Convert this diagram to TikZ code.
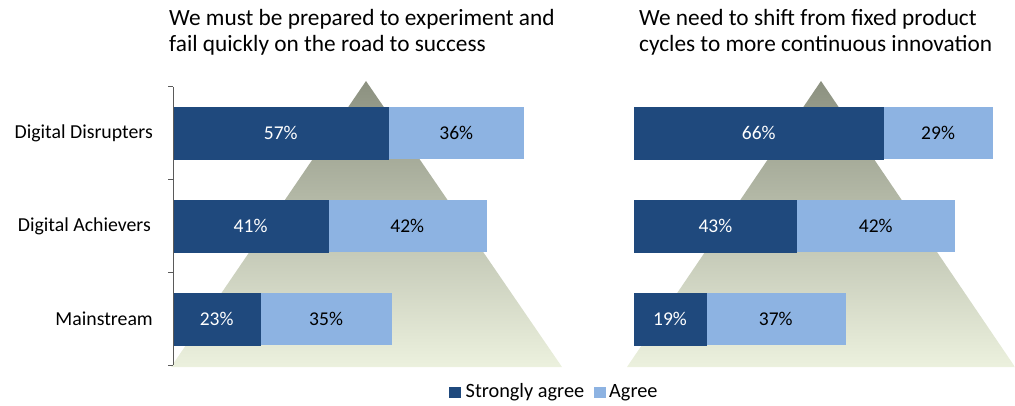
\documentclass[tikz,border=0pt]{standalone}
\usepackage{fontspec}
\setmainfont{Carlito}
\definecolor{darkbar}{HTML}{1F497D}
\definecolor{lightbar}{HTML}{8DB3E2}
\definecolor{pyrtop}{RGB}{140,145,128}
\definecolor{pyrbot}{RGB}{236,241,222}
\definecolor{axisgray}{RGB}{90,90,90}
\tikzset{
  barbase/.style={anchor=west, inner sep=0pt, minimum height=52pt, font=\fontsize{19.5}{22}\selectfont},
  darkseg/.style={barbase, fill=darkbar, draw=darkbar, line width=0.4pt, text=white},
  lightseg/.style={barbase, fill=lightbar, text=black},
  rowlabel/.style={anchor=east, inner sep=0pt, font=\fontsize{19.8}{22}\selectfont},
  titletext/.style={anchor=north west, inner sep=0pt, align=left, font=\fontsize{23.3}{26}\selectfont},
  legtext/.style={anchor=west, inner sep=0pt, font=\fontsize{20.3}{22}\selectfont},
  legbox/.style={inner sep=0pt, minimum width=11.5pt, minimum height=11pt},
  axisline/.style={draw=axisgray, line width=1pt}
}
\newcommand{\pcw}{3.775}
\begin{document}
\begin{tikzpicture}[x=1pt,y=-1pt]
\useasboundingbox (0,0) rectangle (1015,406);
% pyramids
\shade[top color=pyrtop, bottom color=pyrbot] (366,81) -- (562,367) -- (171,367) -- cycle;
\shade[top color=pyrtop, bottom color=pyrbot] (821,81) -- (1015,367) -- (627,367) -- cycle;
% titles
\node[titletext] (t1) at (169,9) {We must be prepared to experiment and\\fail quickly on the road to success};
\node[titletext] (t2) at (639,9) {We need to shift from fixed product\\cycles to more continuous innovation};
% left bars
\node[lightseg, minimum width=36*\pcw pt] (l1l) at (173+57*\pcw,133) {36\%};
\node[darkseg, minimum width=57*\pcw pt] (l1d) at (173,133) {57\%};
\node[lightseg, minimum width=42*\pcw pt] (l2l) at (173+41*\pcw,226) {42\%};
\node[darkseg, minimum width=41*\pcw pt] (l2d) at (173,226) {41\%};
\node[lightseg, minimum width=35*\pcw pt] (l3l) at (173+23*\pcw,319) {35\%};
\node[darkseg, minimum width=23*\pcw pt] (l3d) at (173,319) {23\%};
% right bars
\node[lightseg, minimum width=29*\pcw pt] (r1l) at (634+66*\pcw,133) {29\%};
\node[darkseg, minimum width=66*\pcw pt] (r1d) at (634,133) {66\%};
\node[lightseg, minimum width=42*\pcw pt] (r2l) at (634+43*\pcw,226) {42\%};
\node[darkseg, minimum width=43*\pcw pt] (r2d) at (634,226) {43\%};
\node[lightseg, minimum width=37*\pcw pt] (r3l) at (634+19*\pcw,319) {37\%};
\node[darkseg, minimum width=19*\pcw pt] (r3d) at (634,319) {19\%};
% axis
\coordinate (atop) at (173,87);
\coordinate (abot) at (173,365);
\draw[axisline] (atop) -- (abot);
\foreach \yy in {87,179.7,272.3,365} \draw[axisline] (168,\yy) -- (173,\yy);
% row labels
\node[rowlabel] (lab1) at (153,133) {Digital Disrupters};
\node[rowlabel] (lab2) at (151,226) {Digital Achievers};
\node[rowlabel] (lab3) at (153,319) {Mainstream};
% legend
\node[legbox, fill=darkbar] (lg1) at (455.2,392.5) {};
\node[legtext] (lg1t) at (465.5,392.5) {Strongly agree};
\node[legbox, fill=lightbar] (lg2) at (600,392.5) {};
\node[legtext] (lg2t) at (609,392.5) {Agree};
\end{tikzpicture}
\end{document}
